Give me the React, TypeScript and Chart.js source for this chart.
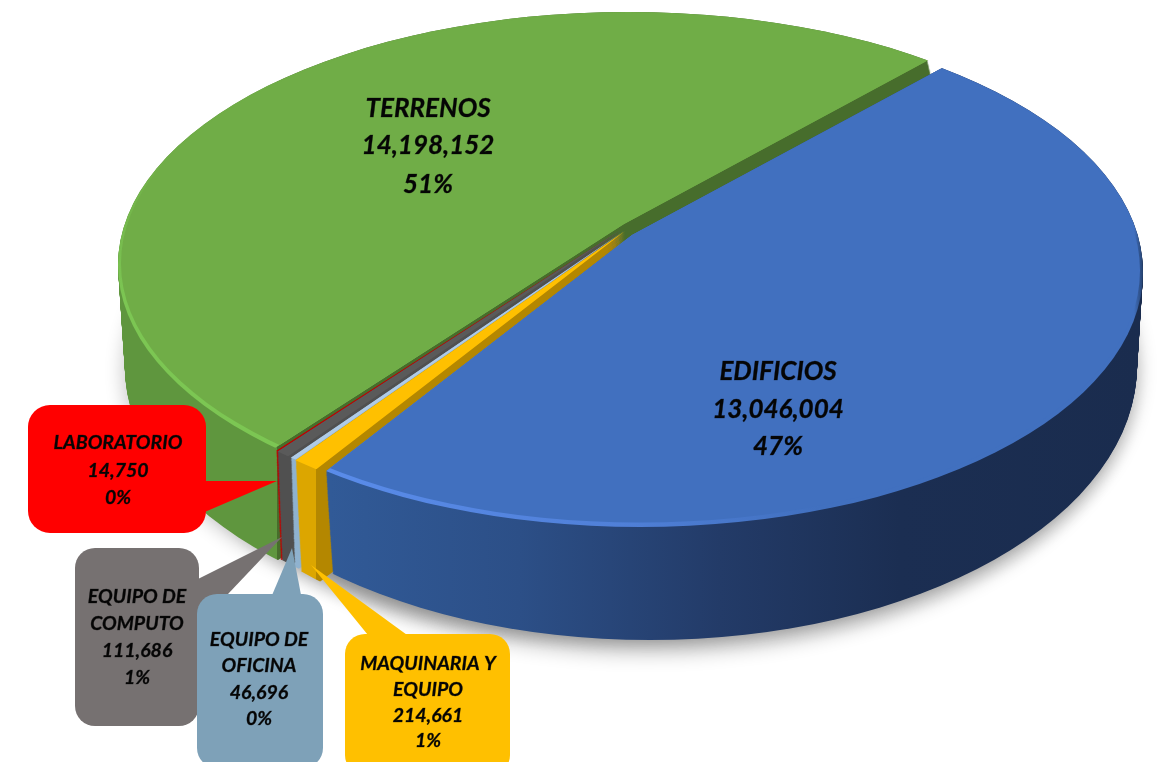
import React, { useEffect, useRef } from "react";
import { Chart, registerables } from "chart.js";

Chart.register(...registerables);

// ---- data (clockwise from the Edificios / Terrenos seam)
const categories = ["EDIFICIOS", "MAQUINARIA Y EQUIPO", "EQUIPO DE OFICINA", "EQUIPO DE COMPUTO", "LABORATORIO", "TERRENOS"];
const values = [13046004, 214661, 46696, 111686, 14750, 14198152];
const valueLabels = ["13,046,004", "214,661", "46,696", "111,686", "14,750", "14,198,152"];
const percentLabels = ["47%", "1%", "0%", "1%", "0%", "51%"];
const nameLines = [["EDIFICIOS"], ["MAQUINARIA Y", "EQUIPO"], ["EQUIPO DE", "OFICINA"], ["EQUIPO DE", "COMPUTO"], ["LABORATORIO"], ["TERRENOS"]];
const topColors = ["#4170bf", "#ffc000", "#b0cbe6", "#5a5a5a", "#c00000", "#70ad47"];

// ---- styling / layout
const FONT = "Lato, 'Open Sans', sans-serif";
const START_ANGLE = 44;
const ASPECT = 0.52;
const ZOOM = 1.9;
const TAU = Math.PI * 2;

type Ell = [number, number, number, number];
type Stop = [number, string];
type Geo = { apex: [number, number]; sweep: [number, number]; top: Ell; bottom: Ell; side: Stop[] };

const SMALL_TOP: Ell = [628, 268, 507, 254];
const SMALL_BOTTOM: Ell = [630, 368, 495, 270];
const geometry: Geo[] = [
  { apex: [632, 235], sweep: [10, 100], top: [640, 272, 503, 255], bottom: [650, 366, 487, 274],
    side: [[330, "#315a97"], [520, "#2c4f87"], [720, "#233b68"], [900, "#1b2e52"], [1143, "#1a2c4e"]] },
  { apex: [625, 231], sweep: [3, 113], top: [636, 272, 505, 255], bottom: [643, 372, 487, 280],
    side: [[280, "#dca600"], [316, "#dca600"], [316.5, "#b48700"], [640, "#b48700"]] },
  { apex: [624, 231], sweep: [2, 110], top: SMALL_TOP, bottom: SMALL_BOTTOM, side: [[270, "#8fb2cf"], [640, "#8fb2cf"]] },
  { apex: [622, 229], sweep: [2, 110], top: SMALL_TOP, bottom: SMALL_BOTTOM, side: [[270, "#505050"], [640, "#505050"]] },
  { apex: [622, 229], sweep: [2, 110], top: SMALL_TOP, bottom: SMALL_BOTTOM, side: [[270, "#c00000"], [640, "#c00000"]] },
  { apex: [624, 224], sweep: [0, 114], top: [628, 265, 510, 253], bottom: [625, 368, 500, 267],
    side: [[118, "#5f963e"], [277, "#5f963e"], [277.5, "#476d2c"], [935, "#476d2c"]] },
];
const BACK_TO_FRONT = [5, 4, 3, 2, 1, 0];

type Callout = { box: [number, number, number, number]; r: number; color: string; pointer: [number, number][]; cx: number; lines: number[]; size: number };
const callouts: Record<number, Callout> = {
  4: { box: [28, 405, 178, 128], r: 22, color: "#ff0000", pointer: [[200, 481], [277, 481], [200, 514]], cx: 118, lines: [443, 471, 498], size: 19.5 },
  3: { box: [75, 548, 124, 178], r: 20, color: "#767171", pointer: [[192, 582], [282, 537], [192, 632]], cx: 137, lines: [597, 624, 651, 678], size: 19.5 },
  2: { box: [197, 594, 126, 174], r: 20, color: "#7ea1b8", pointer: [[270, 600], [292, 548], [302, 600]], cx: 259, lines: [640, 666, 693, 719], size: 19.5 },
  1: { box: [345, 634, 165, 141], r: 20, color: "#ffc000", pointer: [[372, 640], [311, 565], [414, 640]], cx: 428, lines: [664, 690, 716, 741], size: 19.5 },
};
const bigLabels: Record<number, { cx: number; lines: number[] }> = {
  5: { cx: 428, lines: [109, 146, 185] },
  0: { cx: 778, lines: [372, 410, 447] },
};

const lerp = (a: number, b: number, t: number) => a + (b - a) * t;

const piePlugin = {
  id: "tiltedPie",
  beforeDatasetsDraw(chart: any) {
    const ctx: CanvasRenderingContext2D = chart.ctx;
    const arcs: any[] = chart.getDatasetMeta(0).data;

    const place = (arc: any, ax: number, ay: number) => {
      ctx.translate(ax, ay);
      ctx.scale(ZOOM, ZOOM * ASPECT);
      ctx.translate(-arc.x, -arc.y);
    };
    const paint = (arc: any, fill: any) => {
      const keep = arc.options;
      arc.options = { ...keep, backgroundColor: fill };
      arc.draw(ctx);
      arc.options = keep;
    };
    const clipEllipse = (e: Ell) => {
      ctx.beginPath();
      ctx.ellipse(e[0], e[1], e[2], e[3], 0, 0, TAU);
      ctx.clip();
    };
    // gradients run in image pixels, but are resolved under the slice transform
    const gradX = (arc: any, ax: number, stops: Stop[]) => {
      const x0 = stops[0][0];
      const x1 = stops[stops.length - 1][0];
      const g = ctx.createLinearGradient((x0 - ax) / ZOOM + arc.x, 0, (x1 - ax) / ZOOM + arc.x, 0);
      stops.forEach(([x, c]) => g.addColorStop((x - x0) / (x1 - x0), c));
      return g;
    };
    const gradY = (arc: any, ay: number, stops: Stop[]) => {
      const y0 = stops[0][0];
      const y1 = stops[stops.length - 1][0];
      const sy = ZOOM * ASPECT;
      const g = ctx.createLinearGradient(0, (y0 - ay) / sy + arc.y, 0, (y1 - ay) / sy + arc.y);
      stops.forEach(([y, c]) => g.addColorStop((y - y0) / (y1 - y0), c));
      return g;
    };

    // soft drop shadow only: the caster itself sits off the canvas
    const OFF = 3000;
    [[650, 366, 487, 274], [625, 368, 500, 267], [643, 372, 487, 280]].forEach((e) => {
      ctx.save();
      ctx.shadowColor = "rgba(0,0,0,0.2)";
      ctx.shadowBlur = 18;
      ctx.shadowOffsetY = 3;
      ctx.shadowOffsetX = OFF + (e[0] === 625 ? -3 : 3);
      ctx.fillStyle = "#000";
      ctx.beginPath();
      ctx.ellipse(e[0] - OFF, e[1], e[2], e[3], 0, 0, TAU);
      ctx.fill();
      ctx.restore();
    });

    // extruded sides
    BACK_TO_FRONT.forEach((i) => {
      const arc = arcs[i];
      const g = geometry[i];
      const steps = 120;
      for (let s = steps; s >= 0; s--) {
        const t = s / steps;
        const e: Ell = [
          lerp(g.top[0], g.bottom[0], t),
          lerp(g.top[1], g.bottom[1], t),
          lerp(g.top[2], g.bottom[2], t),
          lerp(g.top[3], g.bottom[3], t),
        ];
        const ax = g.apex[0] + g.sweep[0] * t;
        const ay = g.apex[1] + g.sweep[1] * t;
        ctx.save();
        clipEllipse(e);
        place(arc, ax, ay);
        paint(arc, gradX(arc, ax, g.side));
        ctx.restore();
      }
    });

    // top faces, with the bevel highlight along the rim of the two big slices
    BACK_TO_FRONT.forEach((i) => {
      const arc = arcs[i];
      const g = geometry[i];
      const [ax, ay] = g.apex;
      ctx.save();
      clipEllipse(g.top);
      place(arc, ax, ay);
      if (i === 0) {
        paint(arc, gradX(arc, ax, [[320, "#5a8cea"], [620, "#5080d8"], [820, "#4170bf"], [1134, "#4170bf"], [1143, "#26426f"]]));
      } else if (i === 5) {
        paint(arc, gradY(arc, ay, [[150, "#70ad47"], [300, "#7cc653"], [460, "#7cc653"]]));
      } else {
        paint(arc, topColors[i]);
      }
      ctx.restore();
      if (i === 0 || i === 5) {
        ctx.save();
        clipEllipse([g.top[0], g.top[1] - 1.5, g.top[2] - 3, g.top[3] - 3]);
        place(arc, ax, ay);
        paint(arc, topColors[i]);
        ctx.restore();
      }
    });

    // callouts
    [4, 3, 2, 1].forEach((i) => {
      const c = callouts[i];
      ctx.save();
      ctx.fillStyle = c.color;
      ctx.beginPath();
      ctx.roundRect(c.box[0], c.box[1], c.box[2], c.box[3], c.r);
      ctx.fill();
      ctx.beginPath();
      c.pointer.forEach((p, j) => (j ? ctx.lineTo(p[0], p[1]) : ctx.moveTo(p[0], p[1])));
      ctx.closePath();
      ctx.fill();
      ctx.restore();
    });

    // labels
    const drawText = (txt: string, x: number, y: number, size: number) => {
      ctx.font = `italic bold ${size}px ${FONT}`;
      ctx.textAlign = "center";
      ctx.textBaseline = "middle";
      ctx.fillStyle = "#050505";
      ctx.strokeStyle = "rgba(5,5,5,0.55)";
      ctx.lineWidth = 0.5;
      ctx.strokeText(txt, x, y);
      ctx.fillText(txt, x, y);
    };
    ctx.save();
    [4, 3, 2, 1].forEach((i) => {
      const c = callouts[i];
      const rows = [...nameLines[i], valueLabels[i], percentLabels[i]];
      rows.forEach((r, j) => drawText(r, c.cx, c.lines[j], c.size));
    });
    [5, 0].forEach((i) => {
      const b = bigLabels[i];
      const rows = [...nameLines[i], valueLabels[i], percentLabels[i]];
      rows.forEach((r, j) => drawText(r, b.cx, b.lines[j], 26));
    });
    ctx.restore();

    return false;
  },
};

export default function App() {
  const ref = useRef<HTMLCanvasElement | null>(null);
  useEffect(() => {
    if (!ref.current) return;
    const chart = new Chart(ref.current, {
      type: "pie",
      data: {
        labels: categories,
        datasets: [{ data: values, backgroundColor: topColors, borderWidth: 0 }],
      },
      options: {
        animation: false,
        responsive: false,
        rotation: START_ANGLE,
        layout: { padding: 0 },
        events: [],
        plugins: { legend: { display: false }, tooltip: { enabled: false } },
      },
      plugins: [piePlugin],
    } as any);
    return () => chart.destroy();
  }, []);
  return (
    <canvas
      ref={ref}
      width={1160}
      height={762}
      style={{ position: "absolute", left: 0, top: 0, width: 1160, height: 762, display: "block", filter: "blur(0.6px)" }}
    />
  );
}
